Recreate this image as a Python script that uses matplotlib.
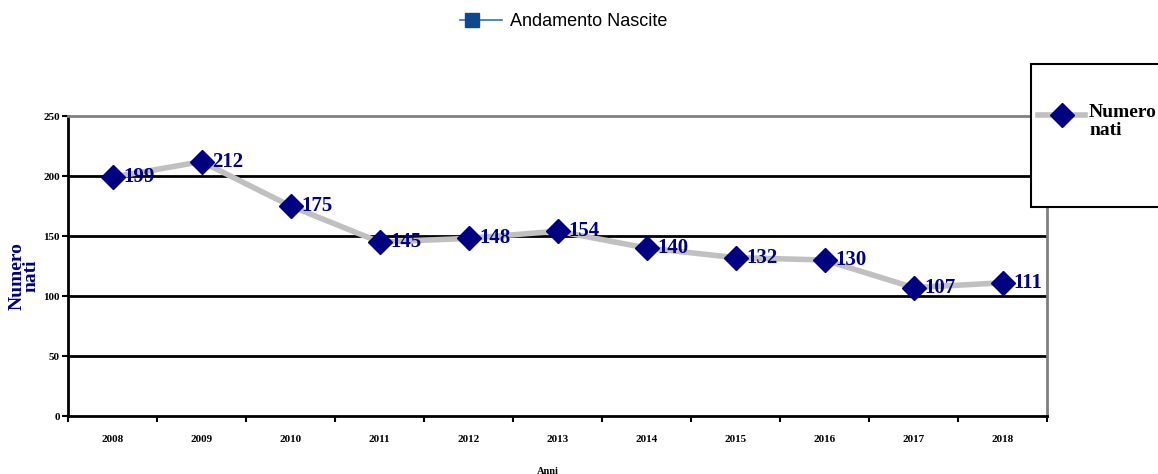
import matplotlib.pyplot as plt
from matplotlib.lines import Line2D
from matplotlib.patches import Rectangle

anni = ['2008', '2009', '2010', '2011', '2012', '2013', '2014', '2015', '2016', '2017', '2018']
nati = [199, 212, 175, 145, 148, 154, 140, 132, 130, 107, 111]
y_ticks = [0, 50, 100, 150, 200, 250]

navy = '#000080'
serif = 'Liberation Serif'

fig = plt.figure(figsize=(11.58, 4.74), dpi=100)
ax = fig.add_axes([68 / 1158, 1 - 416 / 474, (1047 - 68) / 1158, 300 / 474])

x = list(range(len(anni)))
ax.plot(x, nati, color='#c0c0c0', lw=4, marker='D', markersize=12,
        markerfacecolor=navy, markeredgecolor=navy, zorder=3)
for xi, v in zip(x, nati):
    ax.annotate(str(v), (xi, v), xytext=(8, 0), textcoords='offset points',
                va='center', ha='left', fontsize=15, fontweight='bold',
                family=serif, color=navy, zorder=4)

ax.set_xlim(-0.5, len(anni) - 0.5)
ax.set_ylim(0, 250)
ax.set_yticks(y_ticks)
ax.set_yticklabels([str(t) for t in y_ticks], fontsize=8, fontweight='bold', family=serif)
ax.set_xticks([i - 0.5 for i in range(len(anni) + 1)], minor=False)
ax.set_xticklabels([])
ax.set_xticks(x, minor=True)
ax.set_xticklabels(anni, minor=True, fontsize=8, fontweight='bold', family=serif)
ax.tick_params(axis='x', which='minor', length=0, pad=14)
ax.tick_params(axis='x', which='major', length=4, width=1.5, direction='out')
ax.tick_params(axis='y', length=4, width=1.5, direction='out', pad=2)

for t in y_ticks[1:-1]:
    ax.axhline(t, color='black', lw=2, zorder=1)

ax.spines['left'].set_linewidth(2)
ax.spines['bottom'].set_linewidth(2)
ax.spines['top'].set_color('#808080')
ax.spines['top'].set_linewidth(2)
ax.spines['right'].set_color('#808080')
ax.spines['right'].set_linewidth(2)

fig.text(24 / 1158, 1 - 276 / 474, 'Numero\nnati', fontsize=14, fontweight='bold',
         family=serif, color=navy, rotation=90, ha='center', va='center',
         linespacing=0.8)
fig.text(548 / 1158, 1 - 471 / 474, 'Anni', fontsize=7.5, fontweight='bold',
         family=serif, ha='center', va='center')

# top legend-style title
fig.add_artist(Line2D([460 / 1158, 502 / 1158], [1 - 20 / 474] * 2,
                      color='#3a6fb0', lw=1.2))
fig.add_artist(Line2D([472 / 1158], [1 - 20 / 474], marker='s', markersize=10,
                      color='#0d4a8c', lw=0))
fig.text(510 / 1158, 1 - 21 / 474, 'Andamento Nascite', fontsize=13,
         family='Liberation Sans', ha='left', va='center')

# legend box at right
fig.add_artist(Rectangle((1031 / 1158, 1 - 207 / 474), 140 / 1158, 143 / 474,
                         facecolor='white', edgecolor='black', lw=1.5, zorder=5))
fig.add_artist(Line2D([1038 / 1158, 1085 / 1158], [1 - 115 / 474] * 2,
                      color='#c0c0c0', lw=4, zorder=6))
fig.add_artist(Line2D([1062 / 1158], [1 - 115 / 474], marker='D', markersize=12,
                      color=navy, lw=0, zorder=7))
fig.text(1089 / 1158, 1 - 104 / 474, 'Numero\nnati', fontsize=14, fontweight='bold',
         family=serif, ha='left', va='top', linespacing=1.1, zorder=8)

fig.savefig('out.png', dpi=100)
